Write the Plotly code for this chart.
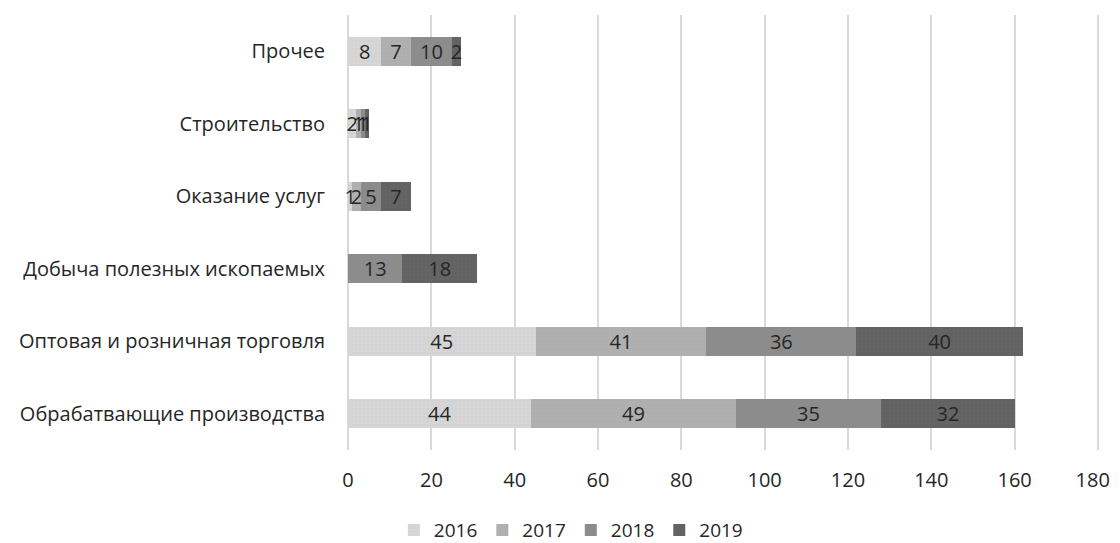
import plotly.graph_objects as go

categories = ["Прочее", "Строительство", "Оказание услуг", "Добыча полезных ископаемых",
              "Оптовая и розничная торговля", "Обрабатвающие производства"]
years = ["2016", "2017", "2018", "2019"]
v2016 = [8, 2, 1, 0, 45, 44]
v2017 = [7, 1, 2, 0, 41, 49]
v2018 = [10, 1, 5, 13, 36, 35]
v2019 = [2, 1, 7, 18, 40, 32]
series = [v2016, v2017, v2018, v2019]
ticks = [0, 20, 40, 60, 80, 100, 120, 140, 160, 180]
tick_labels = ["0", "20", "40", "60", "80", "100", "120", "140", "160", "180\u00a0\u00a0"]

colors = ["#d6d6d6", "#b0b0b0", "#8c8c8c", "#646464"]
pattern_fg = ["#c4c4c4", "#a6a6a6", "#8c8c8c", "#575757"]
FONT = "Open Sans"
FS = 20

fig = go.Figure()
for yr, vals, c, pf in zip(years, series, colors, pattern_fg):
    fig.add_trace(go.Bar(
        y=categories, x=vals, name=yr, orientation="h",
        marker=dict(color=c, line=dict(width=0),
                    pattern=dict(shape=".", size=4, solidity=0.15, fgcolor=pf, bgcolor=c)),
        text=[str(v) if v else "" for v in vals],
        textposition="inside", insidetextanchor="middle", textangle=0,
        textfont=dict(family=FONT, size=FS, color="#262626"),
        constraintext="none", cliponaxis=False,
    ))

fig.update_layout(
    barmode="stack", bargap=0.6,
    width=1112, height=545,
    margin=dict(l=338, r=20, t=7, b=103),
    paper_bgcolor="white", plot_bgcolor="white",
    font=dict(family=FONT, size=FS, color="#262626"),
    uniformtext=dict(minsize=FS, mode="show"),
    legend=dict(orientation="h", xref="container", yref="container",
                x=0.347, xanchor="left", y=0.042, yanchor="middle",
                font=dict(family=FONT, size=19, color="#262626"), traceorder="normal",
                itemwidth=30),
    showlegend=True,
)
fig.update_xaxes(range=[-0.5, 180.5], tickvals=ticks, ticktext=tick_labels,
                 showgrid=True, gridcolor="#d9d9d9", gridwidth=1.5,
                 zeroline=False, showline=False, ticks="", ticklabelstandoff=16,
                 ticklabeloverflow="allow",
                 automargin=False, tickfont=dict(size=FS, color="#262626"))
fig.update_yaxes(autorange="reversed", showgrid=False, showline=False, ticks="",
                 ticklabelstandoff=20, automargin=False, tickfont=dict(size=FS, color="#262626"))

fig.write_html("out.html")
